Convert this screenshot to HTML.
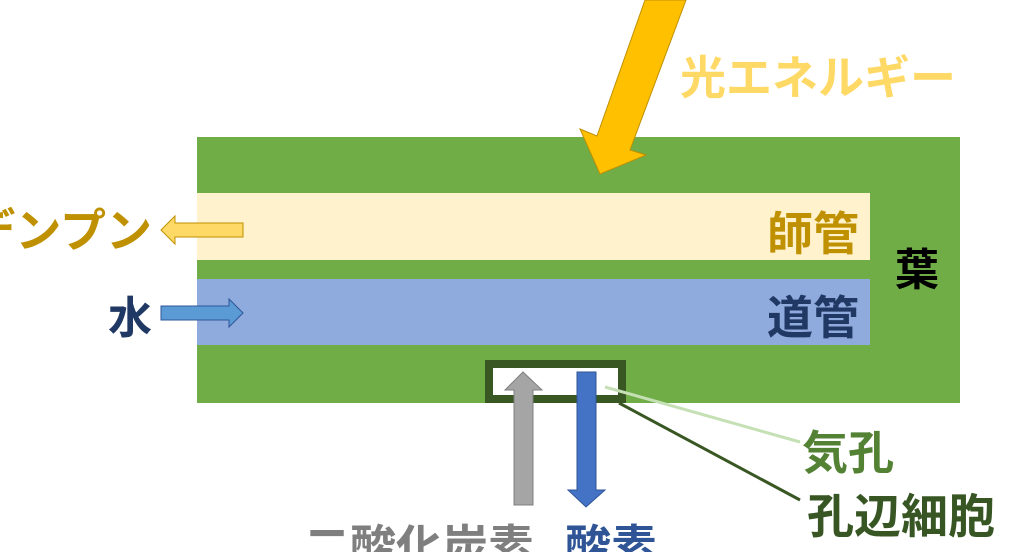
<!DOCTYPE html>
<html><head><meta charset="utf-8"><style>
html,body{margin:0;padding:0;background:#fff;width:1024px;height:552px;overflow:hidden}
svg text{font-family:"Liberation Sans","Noto Sans CJK JP",sans-serif;font-weight:bold}
</style></head><body>
<svg width="1024" height="552" viewBox="0 0 1024 552" xmlns="http://www.w3.org/2000/svg">
<rect x="197" y="137" width="763" height="266" fill="#70ad47"/>
<rect x="197" y="193" width="673" height="67" fill="#fff2cc"/>
<rect x="197" y="279" width="673" height="66" fill="#8faadc"/>
<rect x="489" y="364" width="133" height="35" fill="#fff" stroke="#385723" stroke-width="8"/>
<polygon points="645,0 686,0 630,150 646,155 600,174 580,129 597,136" fill="#ffc000" stroke="#bf9000" stroke-width="1"/>
<text x="680" y="94" font-size="46" fill="#ffd966">光エネルギー</text>
<text x="767" y="250" font-size="46" fill="#bf9000">師管</text>
<text x="767" y="334" font-size="46" fill="#203864">道管</text>
<text x="895" y="285" font-size="44" fill="#000">葉</text>
<text x="152" y="247" font-size="46" fill="#bf9000" text-anchor="end">デンプン</text>
<text x="108" y="333" font-size="44" fill="#203864">水</text>
<polygon points="243,223 175,223 175,216 161,230 175,244 175,237 243,237" fill="#ffd966" stroke="#bf9000" stroke-width="1"/>
<polygon points="161,306 229,306 229,299 243,313 229,327 229,320 161,320" fill="#5b9bd5" stroke="#2f5597" stroke-width="1"/>
<line x1="605" y1="387" x2="800" y2="442" stroke="#c5e0b4" stroke-width="3"/>
<line x1="619" y1="403" x2="800" y2="500" stroke="#385723" stroke-width="3"/>
<polygon points="514,505 533,505 533,390 542,390 523,372 505,390 514,390" fill="#a5a5a5" stroke="#7f7f7f" stroke-width="1"/>
<polygon points="577,372 596,372 596,490 605,490 586,507 568,490 577,490" fill="#4472c4" stroke="#2f5597" stroke-width="1"/>
<text x="802" y="469" font-size="46" fill="#548235">気孔</text>
<text x="807" y="533" font-size="47" fill="#375623">孔辺細胞</text>
<text x="304" y="563" font-size="46" fill="#7f7f7f">二酸化炭素</text>
<text x="565" y="563" font-size="46" fill="#2f5597">酸素</text>
</svg>
</body></html>
